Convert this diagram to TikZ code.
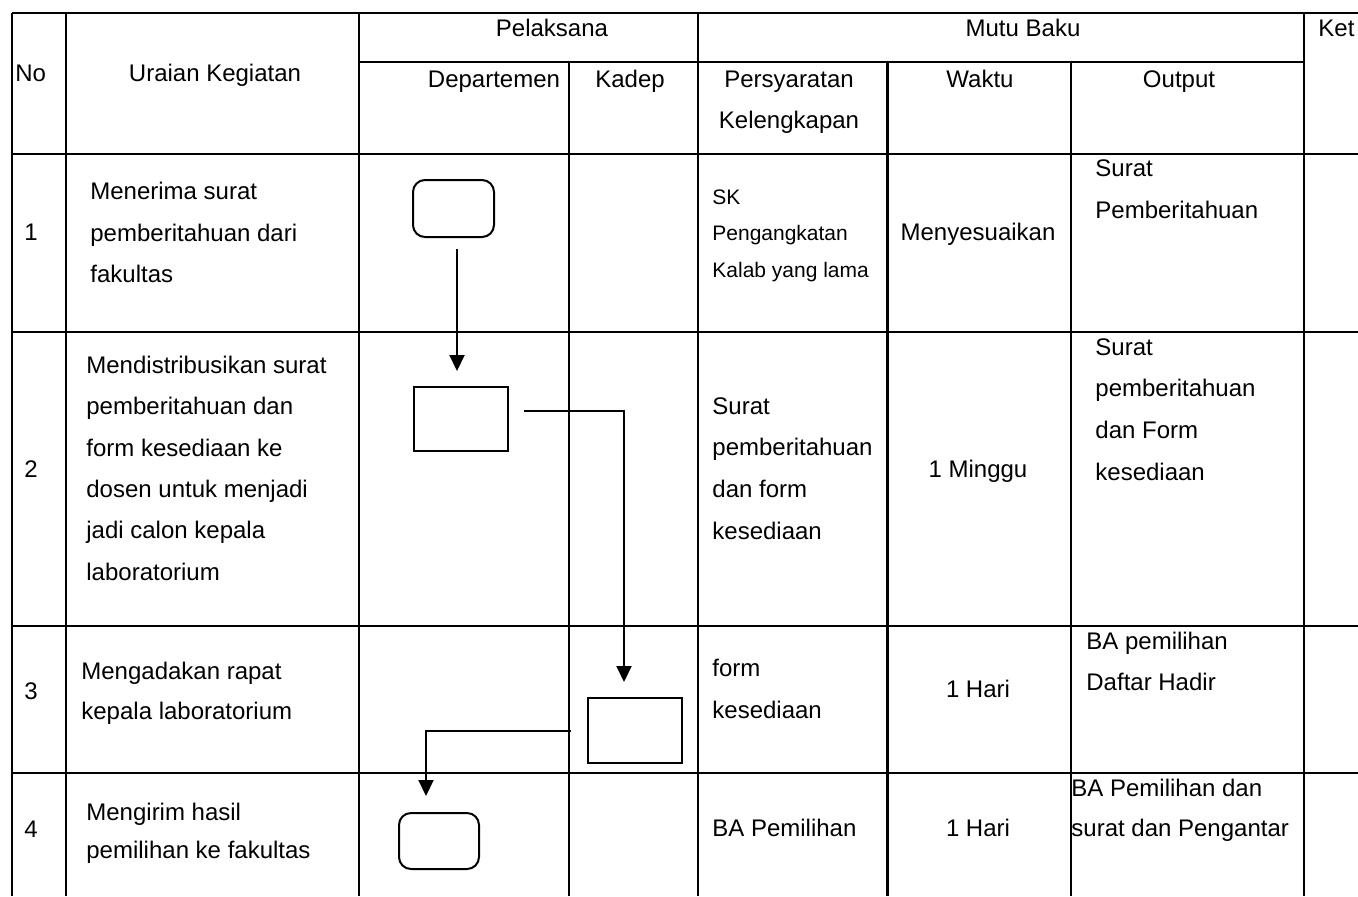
\documentclass[tikz,border=0pt]{standalone}
\usepackage{fontspec}
\setmainfont{Liberation Sans}
\usetikzlibrary{arrows.meta}
\newcommand{\celltxt}[3][12]{\fontsize{#1}{#2}\selectfont\begin{tabular}[t]{@{}l@{}}#3\end{tabular}}
\newcommand{\celltxtc}[2]{\fontsize{12}{#1}\selectfont\begin{tabular}[t]{@{}c@{}}#2\end{tabular}}
\begin{document}
\begin{tikzpicture}[x=0.5pt,y=-0.5pt,
  grid/.style={line width=1.2pt},
  txt/.style={inner sep=0pt, anchor=base west, font=\fontsize{12}{14}\selectfont},
  ctxt/.style={inner sep=0pt, anchor=base, font=\fontsize{12}{14}\selectfont},
  proc/.style={draw, line width=1pt, inner sep=0pt},
  term/.style={draw, line width=1pt, rounded corners=6pt, inner sep=0pt},
  arr/.style={line width=1pt, -{Triangle[length=8pt,width=7.5pt]}}
]
\fill[white] (0,0) rectangle (1358,896);
\useasboundingbox (0,0) rectangle (1358,896);

% table grid
\draw[grid] (12,13) -- (1358,13);
\draw[grid] (359,62) -- (1304,62);
\foreach \yy in {154,332,626,773} \draw[grid] (12,\yy) -- (1358,\yy);
\foreach \xx in {12,66,359,698,1304} \draw[grid] (\xx,13) -- (\xx,896);
\foreach \xx in {569,887.5,1071} \draw[grid] (\xx,62) -- (\xx,896);

% header
\node[txt] (hno) at (15,81.7) {No};
\node[ctxt] (hur) at (215,81.7) {Uraian Kegiatan};
\node[ctxt] (hpel) at (552,36.6) {Pelaksana};
\node[ctxt] (hmutu) at (1023,36.6) {Mutu Baku};
\node[txt] (hket) at (1318,36.6) {Ket};
\node[ctxt] (hdep) at (494,87) {Departemen};
\node[ctxt] (hkad) at (630,87) {Kadep};
\node[ctxt] (hpers) at (789,87) {\celltxtc{20.75pt}{Persyaratan\\Kelengkapan}};
\node[ctxt] (hwak) at (980,87) {Waktu};
\node[ctxt] (hout) at (1179,87) {Output};

% row 1
\node[ctxt] (n1) at (31,240.7) {1};
\node[txt] (u1) at (90,199.5) {\celltxt{20.75pt}{Menerima surat\\pemberitahuan dari\\fakultas}};
\node[txt] (p1) at (712,204) {\celltxt[10.5]{18.4pt}{SK\\Pengangkatan\\Kalab yang lama}};
\node[ctxt] (w1) at (978,240.7) {Menyesuaikan};
\node[txt] (o1) at (1095,176.7) {\celltxt{20.8pt}{Surat\\Pemberitahuan}};

% row 2
\node[ctxt] (n2) at (31,477.3) {2};
\node[txt] (u2) at (86,373.3) {\celltxt{20.7pt}{Mendistribusikan surat\\pemberitahuan dan\\form kesediaan ke\\dosen untuk menjadi\\jadi calon kepala\\laboratorium}};
\node[txt] (p2) at (712,414) {\celltxt{20.85pt}{Surat\\pemberitahuan\\dan form\\kesediaan}};
\node[ctxt] (w2) at (978,477.3) {1 Minggu};
\node[txt] (o2) at (1095,355) {\celltxt{20.85pt}{Surat\\pemberitahuan\\dan Form\\kesediaan}};

% row 3
\node[ctxt] (n3) at (31,699) {3};
\node[txt] (u3) at (81,679.3) {\celltxt{19.85pt}{Mengadakan rapat\\kepala laboratorium}};
\node[txt] (p3) at (712,676.7) {\celltxt{21pt}{form\\kesediaan}};
\node[ctxt] (w3) at (978,697.7) {1 Hari};
\node[txt] (o3) at (1086,649.3) {\celltxt{20.35pt}{BA pemilihan\\Daftar Hadir}};

% row 4
\node[ctxt] (n4) at (31,837.3) {4};
\node[txt] (u4) at (86,820) {\celltxt{19.15pt}{Mengirim hasil\\pemilihan ke fakultas}};
\node[txt] (p4) at (712,836) {BA Pemilihan};
\node[ctxt] (w4) at (978,836) {1 Hari};
\node[txt] (o4) at (1071,796) {\celltxt{20.35pt}{BA Pemilihan dan\\surat dan Pengantar}};

% flow shapes
\node[term, minimum width=40.5pt, minimum height=28.5pt] (b1) at (453.5,208.5) {};
\node[proc, minimum width=47pt, minimum height=32pt] (b2) at (461,419) {};
\node[proc, minimum width=47pt, minimum height=32.5pt] (b3) at (635,730.5) {};
\node[term, minimum width=40pt, minimum height=28pt] (b4) at (439,841) {};

% connectors
\draw[arr] ([xshift=1.75pt,yshift=-5.5pt]b1.south) -- ([xshift=-2pt,yshift=7.5pt]b2.north);
\draw[arr] ([xshift=7.5pt,yshift=4pt]b2.east) -| ([xshift=-5.5pt,yshift=7.5pt]b3.north);
\draw[arr] ([xshift=-8pt]b3.west) -| ([xshift=-6.5pt,yshift=8pt]b4.north);
\end{tikzpicture}
\end{document}
